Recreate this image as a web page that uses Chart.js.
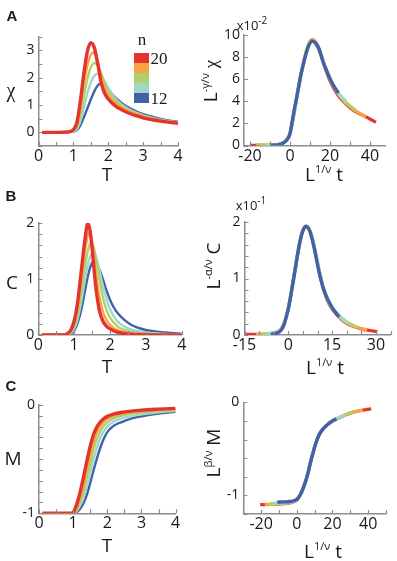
<!DOCTYPE html>
<html>
<head>
<meta charset="utf-8">
<script src="https://cdn.jsdelivr.net/npm/chart.js@4.4.0/dist/chart.umd.min.js"></script>
<style>
  body { margin: 0; background: #fff; width: 397px; height: 561px; position: relative; overflow: hidden;
         font-family: "Open Sans", sans-serif; color: #1a1a1a; }
  canvas { position: absolute; }
  .lbl { position: absolute; transform: translate(-50%, -50%); white-space: nowrap; line-height: 1; }
  .rot { transform: translate(-50%, -50%) rotate(-90deg); }
  .pan { font-family: "Liberation Sans", Arial, sans-serif; font-weight: bold; font-size: 15px; }
  .ttl { font-size: 19px; }
  .ser { font-family: "Liberation Serif", serif; }
  .sp { font-size: 11px; position: relative; top: -0.75em; }
  .exp { font-size: 13px; }
  .exp .sp { font-size: 10px; top: -0.6em; }
  .bar { position: absolute; left: 134px; width: 15px; height: 10px; }
</style>
</head>
<body>
<canvas id="aLeft"></canvas>
<canvas id="aRight"></canvas>
<canvas id="bLeft"></canvas>
<canvas id="bRight"></canvas>
<canvas id="cLeft"></canvas>
<canvas id="cRight"></canvas>

<!-- panel letters and axis titles -->
<div class="lbl pan" style="left:12px;top:15px">A</div>
<div class="lbl pan" style="left:11px;top:195px">B</div>
<div class="lbl pan" style="left:11px;top:385px">C</div>

<div class="lbl ser" style="left:11px;top:90px;font-size:20px">χ</div>
<div class="lbl ttl" style="left:107px;top:174px">T</div>
<div class="lbl ttl" style="left:12px;top:282px">C</div>
<div class="lbl ttl" style="left:107px;top:366px">T</div>
<div class="lbl ttl" style="left:13px;top:458px">M</div>
<div class="lbl ttl" style="left:107px;top:545px">T</div>

<div class="lbl exp" style="left:252px;top:25px">x10<span class="sp">-2</span></div>
<div class="lbl rot ttl" style="left:210px;top:81px">L<span class="sp">-γ/ν</span> <span class="ser">χ</span></div>
<div class="lbl ttl" style="left:324px;top:174px">L<span class="sp">1/ν</span> t</div>

<div class="lbl exp" style="left:251px;top:205px">x10<span class="sp">-1</span></div>
<div class="lbl rot ttl" style="left:213px;top:266px">L<span class="sp">-α/ν</span> C</div>
<div class="lbl ttl" style="left:325px;top:367px">L<span class="sp">1/ν</span> t</div>

<div class="lbl rot ttl" style="left:213px;top:453px">L<span class="sp">β/ν</span> M</div>
<div class="lbl ttl" style="left:323px;top:551px">L<span class="sp">1/ν</span> t</div>

<!-- colour bar for n -->
<div class="bar" style="top:53px;background:#e5342d"></div>
<div class="bar" style="top:63px;background:#f6a544"></div>
<div class="bar" style="top:73px;background:#afd06a"></div>
<div class="bar" style="top:83px;background:#a0d7cc"></div>
<div class="bar" style="top:93px;background:#4161aa"></div>
<div class="lbl ser" style="left:142px;top:39px;font-size:17px">n</div>
<div class="lbl ser" style="left:159px;top:58px;font-size:17px">20</div>
<div class="lbl ser" style="left:159px;top:98px;font-size:17px">12</div>

<script>
// system sizes, one series per n
var nValues = [12, 14, 16, 18, 20];

// A left: susceptibility chi vs T  [T, chi]
var chiN12 = [[0.1,0],[0.6,0],[0.8,0.003],[0.9,0.01],[1.0,0.03],[1.1,0.08],[1.2,0.25],[1.3,0.55],[1.4,0.87],[1.5,1.2],[1.6,1.5],[1.7,1.71],[1.77,1.78],[1.85,1.75],[2.0,1.57],[2.2,1.28],[2.4,1.06],[2.6,0.9],[2.8,0.77],[3.0,0.67],[3.3,0.56],[3.6,0.46],[4.0,0.38]];
var chiN14 = [[0.1,0],[0.6,0],[0.8,0.005],[0.9,0.015],[1.0,0.04],[1.1,0.12],[1.2,0.4],[1.3,0.92],[1.4,1.42],[1.5,1.82],[1.6,2.07],[1.68,2.15],[1.8,2.05],[1.9,1.85],[2.0,1.63],[2.2,1.25],[2.4,1.0],[2.6,0.84],[2.8,0.72],[3.0,0.62],[3.3,0.52],[3.6,0.44],[4.0,0.36]];
var chiN16 = [[0.1,0],[0.6,0],[0.8,0.006],[0.9,0.02],[1.0,0.06],[1.1,0.18],[1.2,0.6],[1.3,1.3],[1.4,1.95],[1.5,2.38],[1.61,2.54],[1.7,2.45],[1.8,2.15],[1.9,1.8],[2.0,1.52],[2.2,1.17],[2.4,0.95],[2.6,0.8],[2.8,0.69],[3.0,0.6],[3.3,0.5],[3.6,0.43],[4.0,0.35]];
var chiN18 = [[0.1,0],[0.6,0],[0.8,0.008],[0.9,0.025],[1.0,0.08],[1.1,0.25],[1.2,0.85],[1.3,1.75],[1.4,2.45],[1.5,2.84],[1.56,2.92],[1.65,2.8],[1.75,2.3],[1.85,1.8],[1.95,1.47],[2.1,1.2],[2.3,0.98],[2.5,0.83],[2.7,0.71],[3.0,0.58],[3.3,0.49],[3.6,0.41],[4.0,0.34]];
var chiN20 = [[0.1,0],[0.6,0],[0.8,0.01],[0.9,0.03],[1.0,0.1],[1.1,0.35],[1.2,1.15],[1.3,2.15],[1.4,2.95],[1.5,3.28],[1.6,3.1],[1.7,2.5],[1.8,1.8],[1.9,1.42],[2.0,1.22],[2.2,0.97],[2.4,0.82],[2.6,0.7],[2.8,0.61],[3.0,0.53],[3.3,0.45],[3.6,0.39],[4.0,0.33]];

// A right: scaled chi (x10^-2) vs L^(1/nu) t
var chiScN12 = [[-10,0.03],[-7,0.05],[-4,0.15],[-1.6,0.5],[0,1.05],[0.8,1.86],[2,3.1],[3.3,4.3],[4.5,5.5],[5.8,6.7],[7,7.6],[8.3,8.5],[9.5,9.1],[11,9.45],[12,9.4],[13,9.2],[14,8.95],[15,8.5],[16.5,7.6],[18,6.9],[20,6.05],[22,5.35],[24.3,4.75]];
var chiScN14 = [[-12.5,0.03],[-9,0.04],[-6,0.08],[-4,0.16],[-2,0.43],[0,1.12],[1.5,2.4],[3.3,4.3],[5.8,6.7],[8.3,8.5],[10,9.3],[11.5,9.45],[13,9.2],[15,8.45],[17,7.4],[20,6.08],[24,4.8],[26,4.35],[28,4.0]];
var chiScN16 = [[-15,0.03],[-11,0.03],[-8,0.05],[-5,0.13],[-2,0.44],[0,1.13],[1.5,2.4],[3.3,4.3],[5.8,6.7],[8.3,8.55],[10,9.35],[11.5,9.5],[13,9.25],[15,8.45],[17,7.4],[20,6.05],[24,4.75],[28,3.9],[30.5,3.5],[33,3.2]];
var chiScN18 = [[-17,0.03],[-12,0.03],[-8,0.05],[-5,0.14],[-2,0.45],[0,1.15],[1.5,2.45],[3.3,4.35],[5.8,6.75],[8.3,8.65],[10,9.45],[11.5,9.6],[13,9.35],[15,8.5],[17,7.4],[20,6.0],[24,4.7],[28,3.85],[32,3.25],[35,2.9],[38,2.6]];
var chiScN20 = [[-19.5,0.02],[-14,0.02],[-10,0.03],[-7,0.06],[-4,0.18],[-2,0.42],[0,1.1],[1.5,2.4],[3.3,4.25],[5.8,6.65],[8.3,8.5],[10,9.3],[11.5,9.45],[13,9.2],[15,8.4],[17,7.3],[20,5.85],[24,4.55],[28,3.75],[32,3.15],[36.3,2.75],[40,2.4],[43,2.1]];

// B left: specific heat C vs T
var cN12 = [[0.1,0],[0.7,0],[0.9,0.02],[1.0,0.08],[1.1,0.22],[1.2,0.45],[1.3,0.78],[1.4,1.1],[1.5,1.29],[1.55,1.32],[1.6,1.3],[1.7,1.18],[1.8,1.0],[1.9,0.8],[2.0,0.63],[2.1,0.5],[2.2,0.4],[2.4,0.27],[2.6,0.18],[2.8,0.125],[3.0,0.09],[3.3,0.06],[3.6,0.04],[4.0,0.025]];
var cN14 = [[0.1,0],[0.7,0],[0.9,0.03],[1.0,0.11],[1.1,0.29],[1.2,0.6],[1.3,0.98],[1.4,1.3],[1.51,1.47],[1.6,1.41],[1.7,1.17],[1.8,0.88],[1.9,0.64],[2.0,0.46],[2.2,0.25],[2.4,0.15],[2.6,0.095],[2.8,0.065],[3.0,0.045],[3.5,0.02],[4.0,0.01]];
var cN16 = [[0.1,0],[0.7,0],[0.9,0.04],[1.0,0.15],[1.1,0.38],[1.2,0.77],[1.3,1.22],[1.4,1.55],[1.47,1.64],[1.55,1.56],[1.6,1.4],[1.7,1.02],[1.8,0.68],[1.9,0.45],[2.0,0.31],[2.2,0.16],[2.4,0.09],[2.6,0.055],[3.0,0.025],[3.5,0.01],[4.0,0.005]];
var cN18 = [[0.1,0],[0.7,0],[0.8,0.01],[0.9,0.06],[1.0,0.2],[1.1,0.5],[1.2,0.98],[1.3,1.48],[1.42,1.83],[1.5,1.68],[1.6,1.15],[1.7,0.7],[1.8,0.42],[1.9,0.27],[2.0,0.18],[2.2,0.09],[2.5,0.04],[3.0,0.015],[4.0,0.003]];
var cN20 = [[0.1,0],[0.7,0],[0.8,0.02],[0.9,0.08],[1.0,0.25],[1.1,0.6],[1.2,1.15],[1.3,1.7],[1.38,1.99],[1.44,1.88],[1.5,1.55],[1.6,0.88],[1.7,0.45],[1.8,0.25],[1.9,0.16],[2.0,0.11],[2.2,0.05],[2.5,0.02],[3.0,0.006],[4.0,0]];

// B right: scaled C (x10^-1)
var cScN12 = [[-6,0.01],[-4,0.03],[-2.4,0.09],[-1.5,0.18],[-0.7,0.32],[0,0.46],[1,0.74],[2,1.05],[2.7,1.27],[3.5,1.52],[4.4,1.74],[5.2,1.87],[6.1,1.92],[7,1.88],[7.8,1.77],[8.7,1.58],[9.5,1.38],[10.3,1.17],[11.2,0.97],[12.3,0.78],[13.5,0.63],[15,0.49],[16.3,0.39],[17.4,0.32]];
var cScN14 = [[-7.5,0.02],[-5,0.04],[-3,0.08],[-2,0.13],[-1,0.26],[0,0.47],[1,0.74],[2,1.05],[3,1.36],[4,1.65],[5,1.85],[6.1,1.92],[7,1.88],[8,1.75],[9,1.53],[10,1.28],[11,1.04],[12,0.84],[13.5,0.63],[15,0.49],[17,0.37],[19,0.27],[20.5,0.22]];
var cScN16 = [[-9,0.015],[-6,0.03],[-4,0.05],[-2,0.13],[-1,0.26],[0,0.47],[1,0.74],[2,1.05],[3,1.36],[4,1.65],[5,1.85],[6.1,1.92],[7,1.88],[8,1.75],[9,1.53],[10,1.28],[11,1.04],[12,0.83],[13.5,0.62],[15,0.48],[17,0.36],[19,0.26],[21,0.2],[23.5,0.14]];
var cScN18 = [[-11,0.01],[-7,0.02],[-4,0.05],[-2,0.14],[-1,0.27],[0,0.48],[1,0.75],[2,1.06],[3,1.37],[4,1.66],[5,1.86],[6.1,1.93],[7,1.89],[8,1.75],[9,1.53],[10,1.28],[11,1.04],[12,0.83],[13.5,0.61],[15,0.47],[17,0.35],[19,0.25],[21,0.19],[23,0.145],[25,0.11],[27,0.09]];
var cScN20 = [[-14.5,0.01],[-10,0.01],[-7,0.02],[-4,0.05],[-2,0.14],[-1,0.27],[0,0.48],[1,0.76],[2,1.07],[3,1.38],[4,1.66],[5,1.85],[6.1,1.92],[7,1.88],[8,1.74],[9,1.52],[10,1.27],[11,1.03],[12,0.82],[13.5,0.6],[15,0.46],[17,0.34],[19,0.24],[21,0.18],[23,0.14],[25.5,0.1],[28,0.08],[30.5,0.06]];

// C left: magnetisation M vs T (shared T grid)
var tGridM = [0.1,0.5,0.9,1.0,1.1,1.2,1.3,1.4,1.5,1.6,1.7,1.8,1.9,2.0,2.2,2.4,2.7,3.0,3.5,4.0];
var mN12 = [-1,-1,-1,-1,-0.99,-0.96,-0.91,-0.83,-0.72,-0.6,-0.49,-0.39,-0.31,-0.25,-0.19,-0.16,-0.125,-0.105,-0.08,-0.062];
var mN14 = [-1,-1,-1,-1,-0.98,-0.93,-0.86,-0.75,-0.62,-0.5,-0.39,-0.3,-0.24,-0.2,-0.15,-0.125,-0.1,-0.086,-0.067,-0.053];
var mN16 = [-1,-1,-1,-0.997,-0.97,-0.9,-0.8,-0.67,-0.54,-0.41,-0.31,-0.24,-0.19,-0.16,-0.12,-0.1,-0.08,-0.07,-0.055,-0.045];
var mN18 = [-1,-1,-1,-0.995,-0.95,-0.86,-0.74,-0.6,-0.46,-0.34,-0.25,-0.195,-0.155,-0.13,-0.1,-0.082,-0.066,-0.057,-0.046,-0.038];
var mN20 = [-1,-1,-1,-0.99,-0.92,-0.81,-0.67,-0.52,-0.38,-0.27,-0.2,-0.155,-0.125,-0.105,-0.083,-0.069,-0.056,-0.047,-0.038,-0.031];

// C right: scaled M
var mScN12 = [[-11,-1.072],[-7,-1.07],[-4,-1.066],[-2,-1.058],[0,-1.043],[1,-1.02],[2,-0.99],[3,-0.95],[4,-0.9],[5,-0.845],[6,-0.78],[7,-0.7],[8,-0.62],[9,-0.55],[10,-0.48],[11,-0.42],[12,-0.37],[13,-0.33],[14.5,-0.29],[16.5,-0.25],[18.5,-0.217],[20.3,-0.195],[22.2,-0.175]];
var mScN14 = [[-13,-1.085],[-9,-1.08],[-5,-1.074],[-2,-1.064],[0,-1.047],[1,-1.022],[2,-0.99],[3,-0.95],[4,-0.9],[5,-0.845],[6,-0.78],[7,-0.7],[8,-0.62],[9,-0.55],[10,-0.48],[11,-0.42],[12,-0.37],[13,-0.33],[14.5,-0.29],[16.5,-0.25],[18.5,-0.218],[20.3,-0.196],[22.2,-0.176],[24.5,-0.153],[27,-0.133]];
var mScN16 = [[-15.5,-1.092],[-11,-1.088],[-7,-1.082],[-4,-1.076],[-2,-1.067],[0,-1.048],[1,-1.023],[2,-0.99],[3,-0.95],[4,-0.9],[5,-0.845],[6,-0.78],[7,-0.7],[8,-0.62],[9,-0.55],[10,-0.48],[11,-0.42],[12,-0.37],[13,-0.33],[14.5,-0.29],[16.5,-0.25],[18.5,-0.22],[20.3,-0.198],[22.2,-0.178],[25,-0.15],[27.8,-0.126],[30,-0.112],[32,-0.103]];
var mScN18 = [[-18,-1.097],[-13,-1.094],[-8,-1.088],[-4,-1.08],[-2,-1.07],[0,-1.05],[1,-1.024],[2,-0.99],[3,-0.95],[4,-0.9],[5,-0.845],[6,-0.78],[7,-0.7],[8,-0.62],[9,-0.55],[10,-0.48],[11,-0.42],[12,-0.37],[13,-0.33],[14.5,-0.29],[16.5,-0.25],[18.5,-0.22],[20.3,-0.2],[22.2,-0.18],[25,-0.153],[27.8,-0.128],[31,-0.108],[34,-0.094],[37,-0.084]];
var mScN20 = [[-20.5,-1.1],[-15,-1.098],[-10,-1.093],[-5,-1.085],[-2,-1.072],[0,-1.05],[1,-1.025],[2,-0.99],[3,-0.95],[4,-0.9],[5,-0.845],[6,-0.78],[7,-0.7],[8,-0.62],[9,-0.55],[10,-0.48],[11,-0.42],[12,-0.37],[13,-0.33],[14.5,-0.29],[16.5,-0.25],[18.5,-0.22],[20.3,-0.2],[22.2,-0.182],[25,-0.155],[27.8,-0.13],[31,-0.11],[35.2,-0.09],[38.5,-0.079],[41.7,-0.07]];

// styling
var colorN = ['#4161aa', '#a0d7cc', '#afd06a', '#f6a544', '#e5342d'];
var axisColor = '#8c8c8c';
var tickFont = "'Open Sans', sans-serif";
var tickLen = 4;

// tick marks point into the plot, like the original
var innerTicks = {
  id: 'innerTicks',
  afterDraw: function(chart) {
    var ctx = chart.ctx, xs = chart.scales.x, ys = chart.scales.y, area = chart.chartArea;
    ctx.save();
    ctx.strokeStyle = axisColor;
    ctx.lineWidth = 1.2;
    ctx.beginPath();
    xs.ticks.forEach(function(t) {
      var px = Math.round(xs.getPixelForValue(t.value)) + 0.5;
      ctx.moveTo(px, area.bottom);
      ctx.lineTo(px, area.bottom - tickLen);
    });
    ys.ticks.forEach(function(t) {
      var py = Math.round(ys.getPixelForValue(t.value)) + 0.5;
      ctx.moveTo(area.left, py);
      ctx.lineTo(area.left + tickLen, py);
    });
    ctx.stroke();
    ctx.restore();
  }
};

function pairsToPoints(pairs) {
  return pairs.map(function(p) { return {x: p[0], y: p[1]}; });
}
function gridToPoints(xs, ys) {
  return xs.map(function(x, i) { return {x: x, y: ys[i]}; });
}

function axis(o, size, horizontal) {
  return {
    type: 'linear',
    min: o.min,
    max: o.max,
    afterFit: function(s) { if (horizontal) s.height = size; else s.width = size; },
    grid: {display: false, drawTicks: false},
    border: {display: true, color: axisColor, width: 1.5},
    ticks: {
      stepSize: o.step,
      autoSkip: false,
      includeBounds: false,
      maxRotation: 0,
      padding: horizontal ? 1 : 4,
      color: '#1a1a1a',
      font: {family: tickFont, size: horizontal ? 16 : 14},
      callback: function(v) {
        var r = v / o.every;
        return Math.abs(r - Math.round(r)) < 1e-6 ? String(Math.round(v * 1000) / 1000) : '';
      }
    }
  };
}

function makePanel(id, box, area, xOpt, yOpt, series, widths, redOnTop) {
  var cv = document.getElementById(id);
  cv.width = box.w; cv.height = box.h;
  cv.style.left = box.x + 'px'; cv.style.top = box.y + 'px';
  new Chart(cv, {
    type: 'line',
    data: {
      datasets: series.map(function(pts, i) {
        return {
          label: 'n=' + nValues[i],
          data: pts,
          borderColor: colorN[i],
          borderWidth: widths[i],
          pointRadius: 0,
          fill: false,
          cubicInterpolationMode: 'monotone',
          order: redOnTop ? 4 - i : i
        };
      })
    },
    options: {
      responsive: false,
      animation: false,
      devicePixelRatio: 1,
      layout: {padding: {left: 0, top: area.t - box.y, right: box.x + box.w - area.r, bottom: 0}},
      plugins: {legend: {display: false}, tooltip: {enabled: false}},
      scales: {
        x: axis(xOpt, box.y + box.h - area.b, true),
        y: axis(yOpt, area.l - box.x, false)
      }
    },
    plugins: [innerTicks]
  });
}

var thinLeft = [2.4, 2.4, 2.4, 2.4, 3.4];
var thickRight = [3.4, 3.2, 3.2, 3.2, 3.2];

makePanel('aLeft', {x: 0, y: 18, w: 200, h: 172}, {l: 38.5, t: 36.7, r: 178, b: 146},
  {min: 0, max: 4, step: 0.5, every: 1}, {min: -0.5, max: 3.5, step: 0.5, every: 1},
  [chiN12, chiN14, chiN16, chiN18, chiN20].map(pairsToPoints), thinLeft, true);

makePanel('aRight', {x: 200, y: 18, w: 197, h: 172}, {l: 244, t: 35, r: 385, b: 145.5},
  {min: -23, max: 47.5, step: 10, every: 20}, {min: 0, max: 10, step: 2, every: 2},
  [chiScN12, chiScN14, chiScN16, chiScN18, chiScN20].map(pairsToPoints), thickRight, false);

makePanel('bLeft', {x: 0, y: 205, w: 200, h: 172}, {l: 38.3, t: 223, r: 181.7, b: 335},
  {min: 0, max: 4, step: 0.5, every: 1}, {min: 0, max: 2, step: 0.2, every: 1},
  [cN12, cN14, cN16, cN18, cN20].map(pairsToPoints), thinLeft, true);

makePanel('bRight', {x: 200, y: 205, w: 197, h: 172}, {l: 244.5, t: 222, r: 390.5, b: 335},
  {min: -15, max: 35, step: 5, every: 15}, {min: 0, max: 2, step: 0.2, every: 1},
  [cScN12, cScN14, cScN16, cScN18, cScN20].map(pairsToPoints), thickRight, false);

makePanel('cLeft', {x: 0, y: 390, w: 200, h: 171}, {l: 39, t: 405, r: 175.6, b: 513.3},
  {min: 0, max: 4, step: 0.5, every: 1}, {min: -1, max: 0, step: 0.1, every: 1},
  [mN12, mN14, mN16, mN18, mN20].map(function(ys) { return gridToPoints(tGridM, ys); }), thinLeft, true);

makePanel('cRight', {x: 200, y: 390, w: 197, h: 171}, {l: 243.3, t: 401, r: 386, b: 514},
  {min: -30, max: 50, step: 10, every: 20}, {min: -1.2, max: 0, step: 0.2, every: 1},
  [mScN12, mScN14, mScN16, mScN18, mScN20].map(pairsToPoints), thickRight, false);
</script>
</body>
</html>
